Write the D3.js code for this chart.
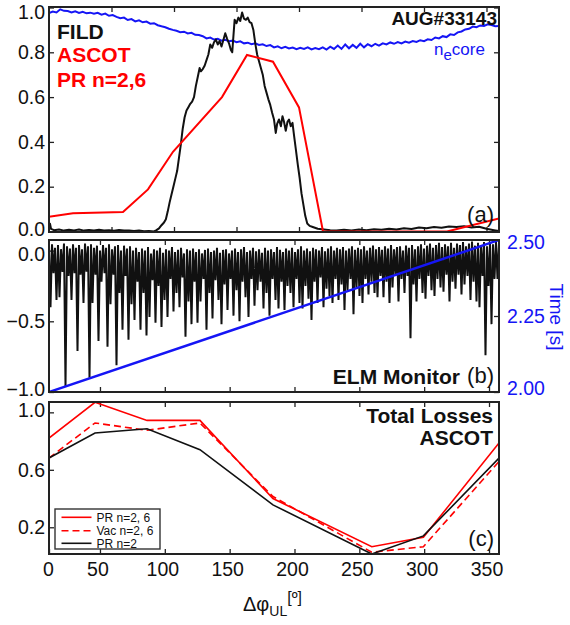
<!DOCTYPE html>
<html><head><meta charset="utf-8">
<script src="https://cdn.jsdelivr.net/npm/d3@7"></script>
<style>
body{margin:0;background:#fff}
svg{display:block}
text{font-family:"Liberation Sans",Arial,Helvetica,sans-serif}
</style>
</head><body>
<svg id="chart" width="570" height="625"></svg>
<script>
// ---------------- DATA ----------------
// Panel (a): FILD signal (black)
const fildAngles = [0,0.8,1.6,4,8,12,16,20,24,28,32,36,40,44,48,52,56,60,64,68,72,76,80,84,86,88,90,92,93.5,95,96.5,98,99.5,101,102.5,104,105.5,107,108.5,110,111.5,113,114.5,116,117.5,119,120.5,121.5,123,124.5,126,127.5,129,130.5,132,133.5,135,136.5,138,139.5,141,142.5,144,145.5,146.6,147.5,148.5,150,151.5,153,154.5,156,157.5,159,160.5,162,163.5,165,166.5,168,169.5,171,172.5,174,175.5,177,178.5,180,181.4,182.5,184,185.5,186.8,188,189.4,190.8,192,193.4,194.8,196,197.4,199,200.5,202,203.5,205,206.6,208.5,211,215,220,225,230,236,242,248,254,260,266,272,278,284,290,296,302,308,314,320,326,332,338,344,350,356,360];
const fildValues = [0.010,0.035,0.012,0.006,0.009,0.004,0.008,0.005,0.009,0.004,0.007,0.005,0.008,0.004,0.006,0.003,0.007,0.004,0.005,0.002,0.004,0.001,0.002,0.000,0.006,0.014,0.028,0.040,0.055,0.09,0.13,0.165,0.2,0.235,0.27,0.33,0.39,0.46,0.51,0.54,0.555,0.57,0.58,0.60,0.65,0.69,0.73,0.715,0.725,0.74,0.765,0.79,0.835,0.82,0.845,0.857,0.835,0.85,0.826,0.855,0.885,0.86,0.84,0.81,0.80,0.87,0.945,0.93,0.955,0.94,0.978,0.95,0.945,0.955,0.935,0.93,0.9,0.84,0.79,0.76,0.73,0.70,0.65,0.62,0.59,0.565,0.53,0.50,0.44,0.48,0.50,0.47,0.515,0.49,0.45,0.49,0.50,0.47,0.485,0.43,0.37,0.30,0.24,0.17,0.12,0.07,0.036,0.025,0.02,0.012,0.009,0.006,0.004,0.008,0.005,0.009,0.006,0.01,0.008,0.012,0.009,0.014,0.011,0.018,0.015,0.02,0.017,0.022,0.02,0.024,0.018,0.021,0.012,0.006,0.002];
// Panel (a): ASCOT PR n=2,6 (red)
const ascotAngles = [0,19.2,59.2,79.2,99.2,138.4,158.4,179.2,200,219.2,318.4,360];
const ascotValues = [0.066,0.081,0.087,0.188,0.356,0.60,0.788,0.758,0.554,0.0,0.0,0.058];
// Panel (a): core density n_e (blue), sampled every 3 degrees from 0 to 360
const neStepDeg = 3;
const neValues = [0.975,0.982,0.978,0.992,0.985,0.984,0.978,0.983,0.976,0.981,0.974,0.977,0.972,0.976,0.968,0.973,0.963,0.966,0.958,0.952,0.955,0.944,0.948,0.938,0.943,0.934,0.937,0.928,0.93,0.921,0.916,0.912,0.905,0.9,0.896,0.89,0.892,0.884,0.887,0.878,0.877,0.872,0.862,0.866,0.857,0.86,0.852,0.856,0.849,0.852,0.845,0.849,0.84,0.843,0.836,0.84,0.833,0.836,0.828,0.832,0.822,0.827,0.818,0.824,0.817,0.821,0.814,0.82,0.815,0.822,0.813,0.819,0.814,0.822,0.812,0.825,0.815,0.83,0.815,0.835,0.818,0.833,0.82,0.838,0.822,0.836,0.827,0.838,0.83,0.84,0.835,0.844,0.838,0.846,0.84,0.848,0.843,0.85,0.846,0.854,0.85,0.858,0.855,0.866,0.862,0.872,0.868,0.88,0.877,0.889,0.893,0.902,0.905,0.915,0.912,0.92,0.918,0.925,0.922,0.916,0.918];
// Panel (b): ELM monitor, upper and lower excursions of each sample (evenly sampled)
const elmHigh = [0.03,0.045,0.02,0.04,0.01,0.05,0.03,0.015,0.045,0.02,
 0.04,0.01,0.05,0.03,0.045,0.02,0.035,0.0,0.04,0.02,
 0.045,0.01,0.03,0.04,0.0,0.035,0.015,0.03,0.0,0.02,
 -0.01,0.015,0.0,0.025,-0.02,0.01,0.0,0.02,-0.015,0.01,
 0.0,0.025,-0.01,0.005,0.02,-0.02,0.01,0.0,0.015,-0.01,
 0.01,-0.02,0.005,0.015,-0.01,0.0,0.02,-0.015,0.005,0.01,
 -0.02,0.0,0.015,-0.01,0.01,0.025,-0.01,0.0,0.02,-0.005,
 0.01,-0.015,0.02,0.0,0.01,-0.01,0.025,0.005,-0.01,0.015,
 0.0,0.02,-0.01,0.01,0.03,0.0,0.015,-0.005,0.02,0.01,
 0.0,0.025,-0.005,0.015,0.03,0.0,0.02,0.01,0.025,0.0,
 0.015,0.03,0.005,0.02,0.01,0.03,0.0,0.02,0.035,0.01,
 0.025,0.005,0.03,0.015,0.04,0.01,0.025,0.03,0.0,0.035,
 0.02,0.04,0.01,0.03,0.045,0.015,0.035,0.05,0.02,0.04,
 0.055,0.025,0.045,0.03,0.055,0.02,0.05,0.04,0.06,0.03,
 0.05,0.065,0.035,0.055,0.04,0.06,0.03,0.055,0.045,0.06,0.05];
const elmLow = [-0.40,-0.16,-0.35,-0.33,-0.15,-0.96,-0.18,-0.35,-0.16,-0.71,
 -0.17,-0.37,-0.15,-0.90,-0.37,-0.17,-0.64,-0.22,-0.16,-0.68,
 -0.38,-0.17,-0.81,-0.30,-0.56,-0.18,-0.63,-0.38,-0.49,-0.22,
 -0.56,-0.30,-0.60,-0.47,-0.21,-0.51,-0.25,-0.54,-0.35,-0.47,
 -0.20,-0.43,-0.30,-0.40,-0.19,-0.61,-0.36,-0.52,-0.22,-0.51,
 -0.36,-0.20,-0.56,-0.30,-0.48,-0.21,-0.35,-0.52,-0.24,-0.42,
 -0.20,-0.46,-0.28,-0.50,-0.22,-0.33,-0.47,-0.20,-0.39,-0.28,
 -0.22,-0.41,-0.30,-0.46,-0.20,-0.35,-0.41,-0.22,-0.42,-0.25,
 -0.30,-0.40,-0.20,-0.37,-0.41,-0.25,-0.34,-0.49,-0.22,-0.37,
 -0.19,-0.40,-0.27,-0.32,-0.37,-0.20,-0.35,-0.24,-0.42,-0.28,
 -0.20,-0.45,-0.26,-0.32,-0.37,-0.20,-0.31,-0.22,-0.30,-0.33,
 -0.18,-0.33,-0.22,-0.37,-0.26,-0.18,-0.36,-0.20,-0.30,-0.18,
 -0.62,-0.24,-0.36,-0.20,-0.30,-0.34,-0.18,-0.28,-0.32,-0.20,
 -0.26,-0.29,-0.17,-0.36,-0.22,-0.27,-0.17,-0.31,-0.24,-0.18,
 -0.35,-0.22,-0.36,-0.40,-0.18,-0.74,-0.25,-0.52,-0.20,-0.20,-0.25];
// Panel (b): time (right axis, blue)
const timeAngles = [10.7, 357.7];
const timeValues = [2.00, 2.50];
// Panel (c): total losses, ASCOT
const lossAngles = [10.7,46.2,86.3,127.1,183.4,259.6,299.4,357.7];
const lossPR26  = [0.821,1.07,0.944,0.944,0.40,0.065,0.13,0.786];
const lossVac26 = [0.682,0.926,0.875,0.926,0.414,0.026,0.065,0.658];
const lossPR2   = [0.682,0.856,0.886,0.74,0.356,0.014,0.14,0.682];
const legendLabels = ["PR n=2, 6","Vac n=2, 6","PR n=2"];
// Ticks
const aYTicks = [0,0.2,0.4,0.6,0.8,1.0];
const aXTicks = [50,100,150,200,250,300,350];
const bYTicks = [-1.0,-0.5,0.0];
const bTimeTicks = [2.00,2.25,2.50];
const cYTicks = [0.2,0.6,1.0];
const cXTicks = [10.7,50,100,150,200,250,300,350];
const cXTickLabels = ["0","50","100","150","200","250","300","350"];

// ---------------- LAYOUT ----------------
const L = 49, R = 499;
const A = {top:7, bottom:232}, B = {top:240, bottom:392}, C = {top:402, bottom:554};
const RED = "#ff0000", BLUE = "#1515f5", INK = "#111", FRAME = "#222";

const svg = d3.select("#chart");
const xa = d3.scaleLinear().domain([0,360]).range([L,R]);
const ya = d3.scaleLinear().domain([0,1]).range([231.5,7.5]);
const xc = d3.scaleLinear().domain([10.7,357.7]).range([L,R]);
const yb = d3.scaleLinear().domain([-1,0.075]).range([392,240]);
const yt = d3.scaleLinear().domain([2.0,2.5]).range([392,240]);
const yc = d3.scaleLinear().domain([0.014,1.072]).range([554,402]);

const defs = svg.append("defs");
[["clipA",A],["clipB",B],["clipC",C]].forEach(([id,p])=>{
  defs.append("clipPath").attr("id",id).append("rect")
    .attr("x",L).attr("y",p.top).attr("width",R-L).attr("height",p.bottom-p.top);
});

function styleAxis(g, color){
  g.select(".domain").remove();
  g.selectAll(".tick line").attr("stroke",FRAME).attr("stroke-width",1.3);
  g.selectAll(".tick text").attr("font-size",19.5).attr("fill",color||INK)
    .attr("font-family",'"Liberation Sans",Arial,sans-serif');
}
const f1 = d3.format(".1f"), f2 = d3.format(".2f");

// ---------------- PANEL (a) ----------------
const gA = svg.append("g");
gA.append("g").attr("transform",`translate(${L},0)`)
  .call(d3.axisLeft(ya).tickValues(aYTicks).tickSize(-5).tickPadding(4).tickFormat(f1))
  .call(g=>styleAxis(g))
  .call(g=>g.selectAll(".tick text").attr("transform",d=>d===1?"translate(0,4.5)":d===0?"translate(0,-2.5)":null));
gA.append("g").attr("transform",`translate(${R},0)`)
  .call(d3.axisRight(ya).tickValues(aYTicks).tickSize(-5).tickFormat("")).call(g=>styleAxis(g));
gA.append("g").attr("transform",`translate(0,${A.bottom})`)
  .call(d3.axisBottom(xa).tickValues(aXTicks).tickSize(-5).tickFormat("")).call(g=>styleAxis(g));
gA.append("g").attr("transform",`translate(0,${A.top})`)
  .call(d3.axisTop(xa).tickValues(aXTicks).tickSize(-5).tickFormat("")).call(g=>styleAxis(g));

const plotA = gA.append("g").attr("clip-path","url(#clipA)");
const neData = neValues.map((v,i)=>[i*neStepDeg, v]);
plotA.append("path").datum(neData)
  .attr("d", d3.line().x(d=>xa(d[0])).y(d=>ya(d[1])))
  .attr("fill","none").attr("stroke",BLUE).attr("stroke-width",2);
plotA.append("path").datum(fildAngles.map((a,i)=>[a,fildValues[i]]))
  .attr("d", d3.line().x(d=>xa(d[0])).y(d=>ya(d[1])))
  .attr("fill","none").attr("stroke",INK).attr("stroke-width",2).attr("stroke-linejoin","round");
plotA.append("path").datum(ascotAngles.map((a,i)=>[a,ascotValues[i]]))
  .attr("d", d3.line().x(d=>xa(d[0])).y(d=>ya(d[1])))
  .attr("fill","none").attr("stroke",RED).attr("stroke-width",2);
gA.append("rect").attr("x",L).attr("y",A.top).attr("width",R-L).attr("height",A.bottom-A.top)
  .attr("fill","none").attr("stroke",FRAME).attr("stroke-width",2);

gA.append("text").attr("x",57).attr("y",38.5).attr("font-size",21).attr("font-weight","bold").attr("fill",INK).text("FILD");
gA.append("text").attr("x",57).attr("y",62).attr("font-size",21).attr("font-weight","bold").attr("fill",RED).text("ASCOT");
gA.append("text").attr("x",57).attr("y",87).attr("font-size",21).attr("font-weight","bold").attr("fill",RED).text("PR n=2,6");
gA.append("text").attr("x",497).attr("y",25).attr("text-anchor","end").attr("font-size",19).attr("font-weight","bold").attr("fill",INK).text("AUG#33143");
const neLbl = gA.append("text").attr("x",434).attr("y",55).attr("font-size",17).attr("fill",BLUE);
neLbl.append("tspan").text("n");
neLbl.append("tspan").attr("dy",5).attr("font-size",15).text("e");
neLbl.append("tspan").attr("dy",-5).text("core");
gA.append("text").attr("x",494).attr("y",222).attr("text-anchor","end").attr("font-size",22).attr("fill",INK).text("(a)");

// ---------------- PANEL (b) ----------------
const gB = svg.append("g");
gB.append("g").attr("transform",`translate(${L},0)`)
  .call(d3.axisLeft(yb).tickValues(bYTicks).tickSize(-5).tickPadding(4).tickFormat(f1))
  .call(g=>styleAxis(g))
  .call(g=>g.selectAll(".tick text").attr("transform",d=>d===0?"translate(0,3.5)":d===-1?"translate(0,-3)":null));
gB.append("g").attr("transform",`translate(${R},0)`)
  .call(d3.axisRight(yt).tickValues(bTimeTicks).tickSize(-5).tickPadding(8).tickFormat(f2))
  .call(g=>styleAxis(g,BLUE))
  .call(g=>g.selectAll(".tick text").attr("transform",d=>d===2.5?"translate(0,2)":d===2?"translate(0,-4)":null));
gB.append("g").attr("transform",`translate(0,${B.bottom})`)
  .call(d3.axisBottom(xc).tickValues(cXTicks.slice(1)).tickSize(-5).tickFormat("")).call(g=>styleAxis(g));
gB.append("g").attr("transform",`translate(0,${B.top})`)
  .call(d3.axisTop(xc).tickValues(cXTicks.slice(1)).tickSize(-5).tickFormat("")).call(g=>styleAxis(g));

const plotB = gB.append("g").attr("clip-path","url(#clipB)");
const [d0,d1] = xc.domain();
const nElm = elmHigh.length, stepElm = (d1-d0)/(nElm-1);
const elmPts = [];
elmHigh.forEach((h,i)=>{
  elmPts.push([d0+i*stepElm, h]);
  elmPts.push([d0+(i+0.5)*stepElm, elmLow[i]]);
});
plotB.append("path").datum(elmPts)
  .attr("d", d3.line().x(d=>xc(d[0])).y(d=>yb(d[1])))
  .attr("fill","none").attr("stroke",INK).attr("stroke-width",2).attr("stroke-linejoin","bevel");
plotB.append("path").datum(timeAngles.map((a,i)=>[a,timeValues[i]]))
  .attr("d", d3.line().x(d=>xc(d[0])).y(d=>yt(d[1])))
  .attr("fill","none").attr("stroke",BLUE).attr("stroke-width",2.5);
gB.append("rect").attr("x",L).attr("y",B.top).attr("width",R-L).attr("height",B.bottom-B.top)
  .attr("fill","none").attr("stroke",FRAME).attr("stroke-width",2);
gB.append("text").attr("x",460).attr("y",384).attr("text-anchor","end").attr("font-size",21).attr("font-weight","bold").attr("fill",INK).text("ELM Monitor");
gB.append("text").attr("x",494).attr("y",383).attr("text-anchor","end").attr("font-size",22).attr("fill",INK).text("(b)");
gB.append("text").attr("transform","translate(550,317) rotate(90)").attr("text-anchor","middle")
  .attr("font-size",19).attr("fill",BLUE).text("Time [s]");

// ---------------- PANEL (c) ----------------
const gC = svg.append("g");
gC.append("g").attr("transform",`translate(${L},0)`)
  .call(d3.axisLeft(yc).tickValues(cYTicks).tickSize(-5).tickPadding(4).tickFormat(f1))
  .call(g=>styleAxis(g))
  .call(g=>g.selectAll(".tick text").attr("transform",d=>d===1?"translate(0,-2)":null));
gC.append("g").attr("transform",`translate(0,${C.bottom})`)
  .call(d3.axisBottom(xc).tickValues(cXTicks).tickSize(-5).tickPadding(8).tickFormat((d,i)=>cXTickLabels[i]))
  .call(g=>styleAxis(g))
  .call(g=>g.selectAll(".tick text").attr("transform",(d,i)=>i===0?"translate(-1,0)":"translate(-2.5,0)"));
gC.append("g").attr("transform",`translate(0,${C.top})`)
  .call(d3.axisTop(xc).tickValues(cXTicks.slice(1)).tickSize(-5).tickFormat("")).call(g=>styleAxis(g));

const plotC = gC.append("g").attr("clip-path","url(#clipC)");
const lossLine = d3.line().x(d=>xc(d[0])).y(d=>yc(d[1]));
const series = [
  {vals:lossPR26, color:RED, dash:null},
  {vals:lossVac26, color:RED, dash:"7,4"},
  {vals:lossPR2, color:INK, dash:null}
];
series.forEach(s=>{
  plotC.append("path").datum(lossAngles.map((a,i)=>[a,s.vals[i]]))
    .attr("d", lossLine).attr("fill","none").attr("stroke",s.color)
    .attr("stroke-width",1.6).attr("stroke-dasharray",s.dash);
});
gC.append("rect").attr("x",L).attr("y",C.top).attr("width",R-L).attr("height",C.bottom-C.top)
  .attr("fill","none").attr("stroke",FRAME).attr("stroke-width",2);
gC.append("text").attr("x",493).attr("y",423).attr("text-anchor","end").attr("font-size",21).attr("font-weight","bold").attr("fill",INK).text("Total Losses");
gC.append("text").attr("x",493).attr("y",445).attr("text-anchor","end").attr("font-size",21).attr("font-weight","bold").attr("fill",INK).text("ASCOT");
gC.append("text").attr("x",494).attr("y",546).attr("text-anchor","end").attr("font-size",22).attr("fill",INK).text("(c)");

// legend
const lg = gC.append("g");
lg.append("rect").attr("x",55).attr("y",509).attr("width",105).attr("height",40)
  .attr("fill","#fff").attr("stroke","#333").attr("stroke-width",1.4);
const rowsY = [517.3,530.7,543.3];
series.forEach((s,i)=>{
  lg.append("line").attr("x1",61.5).attr("x2",91.5).attr("y1",rowsY[i]).attr("y2",rowsY[i])
    .attr("stroke",s.color).attr("stroke-width",1.6).attr("stroke-dasharray",s.dash);
  lg.append("text").attr("x",96.5).attr("y",rowsY[i]).attr("dy","0.35em").attr("font-size",12)
    .attr("fill",INK).text(legendLabels[i]);
});

// x-axis title
const xt = svg.append("text").attr("x",243).attr("y",611).attr("font-size",20).attr("fill",INK);
xt.append("tspan").text("Δφ");
xt.append("tspan").attr("dy",5).attr("font-size",14).text("UL");
xt.append("tspan").attr("dy",-13).attr("font-size",16).text("[º]");
</script>
</body></html>
